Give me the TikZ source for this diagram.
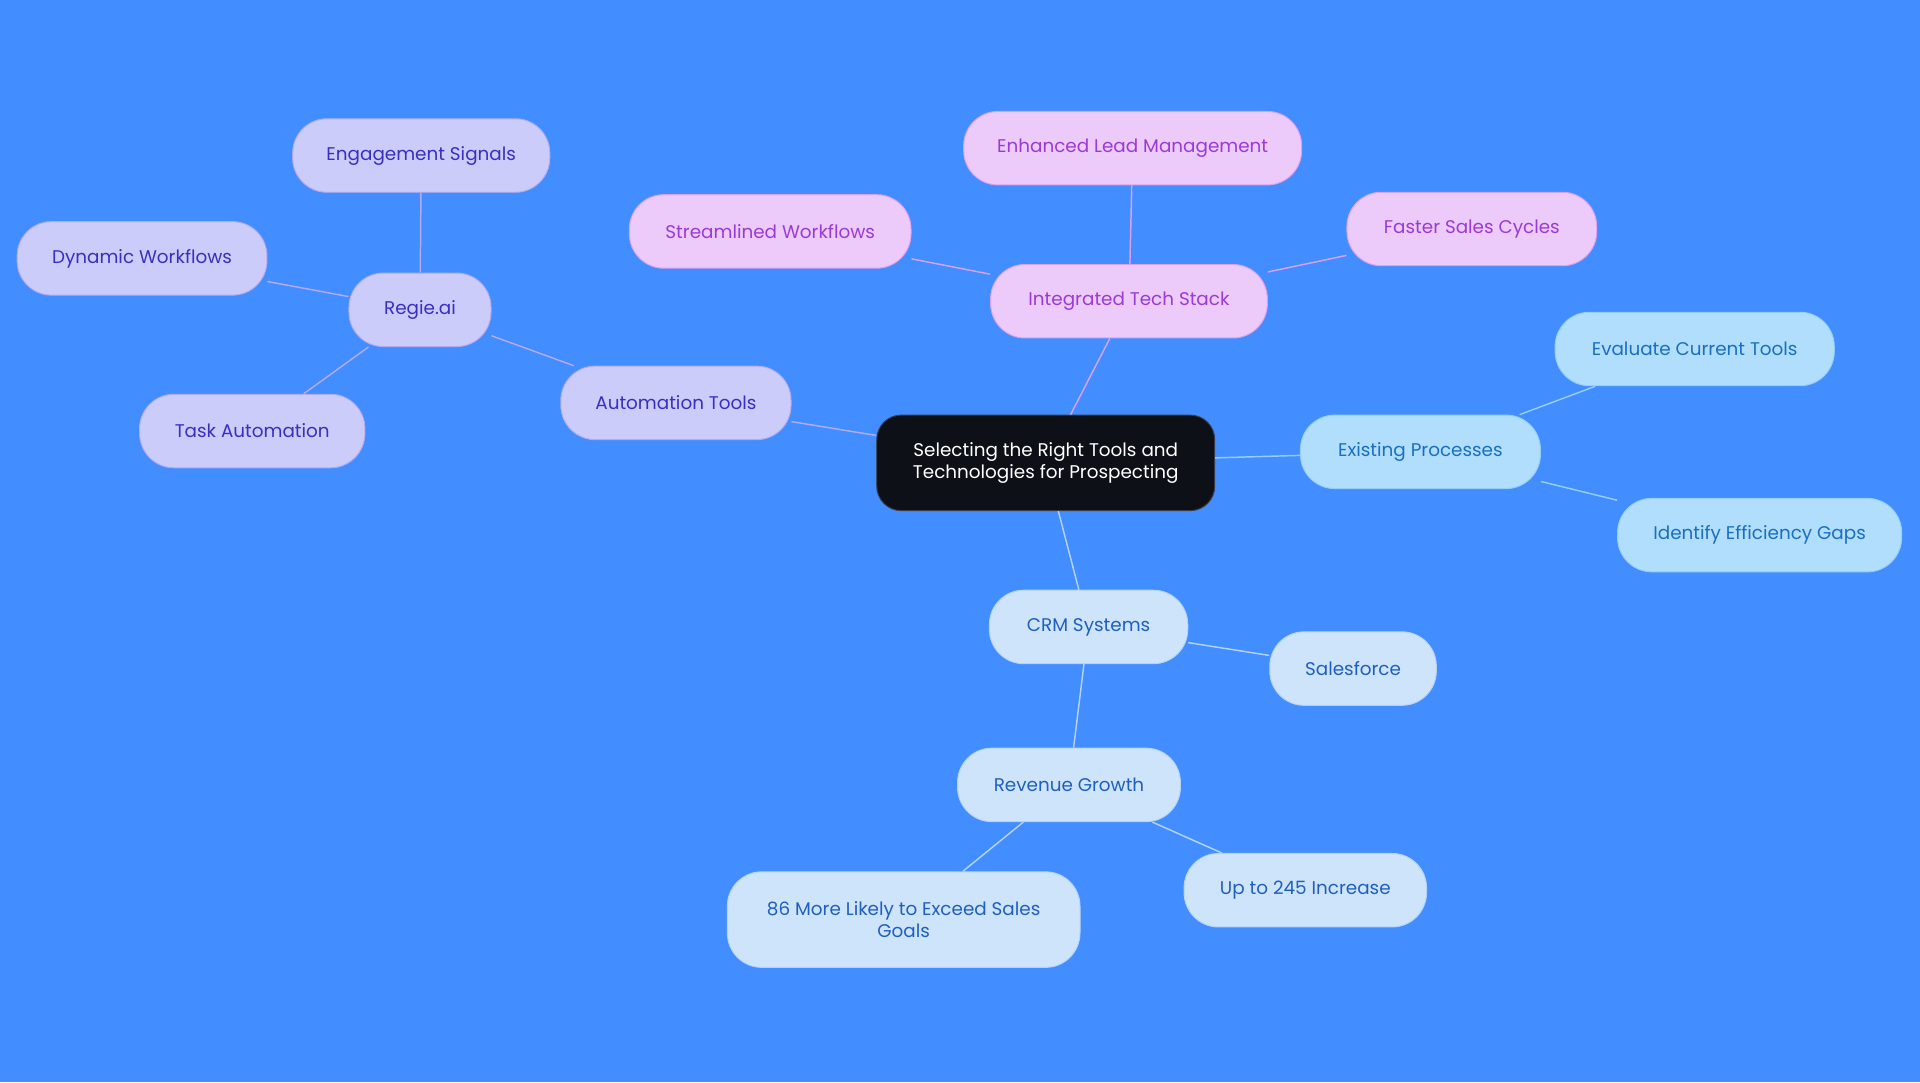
\documentclass[tikz,border=0pt]{standalone}
\usepackage{fontspec}
\setmainfont{Poppins}
\definecolor{bg}{RGB}{66,141,255}
\definecolor{pf}{RGB}{204,204,250}\definecolor{pd}{RGB}{180,170,240}\definecolor{pt}{RGB}{58,47,192}
\definecolor{kf}{RGB}{236,202,250}\definecolor{kd}{RGB}{220,160,240}\definecolor{kt}{RGB}{155,59,214}
\definecolor{lf}{RGB}{176,222,252}\definecolor{ld}{RGB}{150,205,245}\definecolor{lt}{RGB}{27,111,192}
\definecolor{bf}{RGB}{206,228,250}\definecolor{bd}{RGB}{180,210,245}\definecolor{bt}{RGB}{31,95,192}
\definecolor{cf}{RGB}{13,17,23}\definecolor{cd}{RGB}{60,60,70}
\begin{document}
\begin{tikzpicture}[x=1pt,y=-1pt,
 base/.style={rounded corners=28pt,minimum height=60pt,font=\fontsize{15}{18}\selectfont,align=center,line width=0.8pt},
 pur/.style={base,fill=pf,draw=pd,text=pt},
 pnk/.style={base,fill=kf,draw=kd,text=kt},
 lbl/.style={base,fill=lf,draw=ld,text=lt},
 pbl/.style={base,fill=bf,draw=bd,text=bt},
 lp/.style={draw=pd,line width=1.2pt},
 lk/.style={draw=kd,line width=1.2pt},
 ll/.style={draw=ld,line width=1.2pt},
 lb/.style={draw=bd,line width=1.2pt}]
\fill[bg] (0,0) rectangle (1568,884);
\useasboundingbox (0,0) rectangle (1568,884);
\node[base,fill=cf,draw=cd,text=white,minimum width=276pt,minimum height=78pt,rounded corners=20pt] (c) at (854,378) {Selecting the Right Tools and\\Technologies for Prospecting};
\node[pur,minimum width=188pt] (at) at (552,329) {Automation Tools};
\node[pur,minimum width=116pt] (rg) at (343,253) {Regie.ai};
\node[pur,minimum width=210pt] (es) at (344,127) {Engagement Signals};
\node[pur,minimum width=204pt] (dw) at (116,211) {Dynamic Workflows};
\node[pur,minimum width=184pt] (ta) at (206,352) {Task Automation};
\node[pnk,minimum width=226pt] (it) at (922,246) {Integrated Tech Stack};
\node[pnk,minimum width=276pt] (el) at (925,121) {Enhanced Lead Management};
\node[pnk,minimum width=230pt] (sw) at (629,189) {Streamlined Workflows};
\node[pnk,minimum width=204pt] (fs) at (1202,187) {Faster Sales Cycles};
\node[lbl,minimum width=196pt] (ep) at (1160,369) {Existing Processes};
\node[lbl,minimum width=228pt] (ec) at (1384,285) {Evaluate Current Tools};
\node[lbl,minimum width=232pt] (ig) at (1437,437) {Identify Efficiency Gaps};
\node[pbl,minimum width=162pt] (crm) at (889,512) {CRM Systems};
\node[pbl,minimum width=136pt] (sf) at (1105,546) {Salesforce};
\node[pbl,minimum width=182pt] (rv) at (873,641) {Revenue Growth};
\node[pbl,minimum width=288pt,minimum height=78pt] (m86) at (738,751) {86 More Likely to Exceed Sales\\Goals};
\node[pbl,minimum width=198pt] (u245) at (1066,727) {Up to 245 Increase};
\path[lp] (c) -- (at) (at) -- (rg) (rg) -- (es) (rg) -- (dw) (rg) -- (ta);
\path[lk] (c) -- (it) (it) -- (el) (it) -- (sw) (it) -- (fs);
\path[ll] (c) -- (ep) (ep) -- (ec) (ep) -- (ig);
\path[lb] (c) -- (crm) (crm) -- (sf) (crm) -- (rv) (rv) -- (m86) (rv) -- (u245);
\end{tikzpicture}
\end{document}
